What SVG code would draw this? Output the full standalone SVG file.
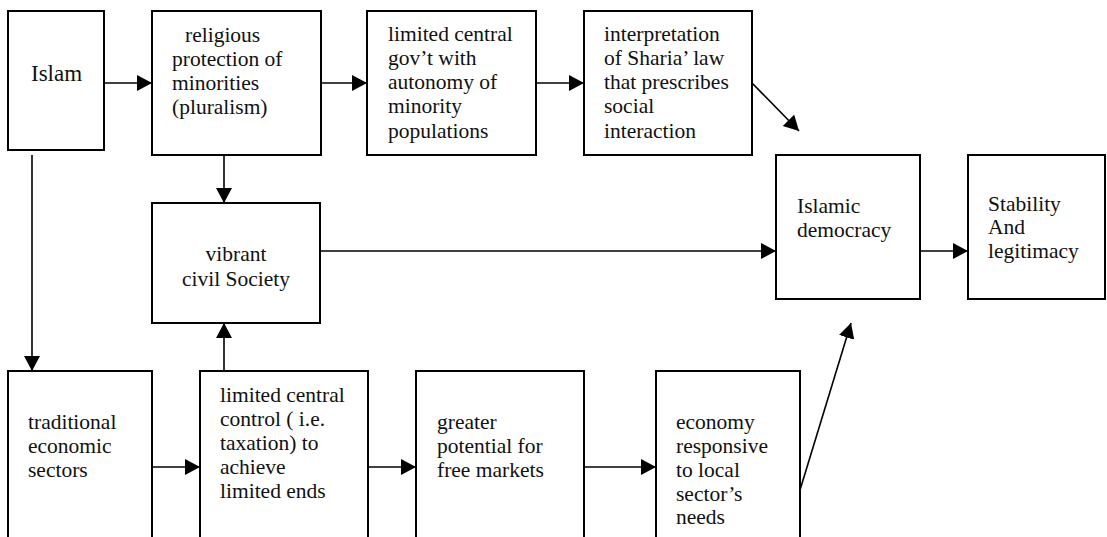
<svg xmlns="http://www.w3.org/2000/svg" width="1107" height="537" viewBox="0 0 1107 537" font-family="'Liberation Serif', 'Times New Roman', serif">
  <style>
    .box { fill: #ffffff; stroke: #000000; stroke-width: 2; }
    .link { fill: none; stroke: #000000; stroke-width: 1.6; marker-end: url(#arrow); }
    text { font-family: 'Liberation Serif', 'Times New Roman', serif; font-size: 21.5px; fill: #111111; }
    .big { font-size: 23px; }
    .mid { text-anchor: middle; }
  </style>
  <defs>
    <marker id="arrow" markerUnits="userSpaceOnUse" markerWidth="16" markerHeight="17" refX="15" refY="8" orient="auto">
      <path d="M0,0 L15,8 L0,16 Z" fill="#000000"/>
    </marker>
  </defs>
  <rect width="1107" height="537" fill="#ffffff"/>

  <!-- connectors -->
  <g id="connectors">
    <line class="link" x1="104" y1="83" x2="152" y2="83"/>
    <line class="link" x1="321" y1="83" x2="367" y2="83"/>
    <line class="link" x1="536" y1="83" x2="584" y2="83"/>
    <line class="link" x1="752" y1="83" x2="799" y2="131"/>
    <line class="link" x1="224" y1="155" x2="224" y2="203"/>
    <line class="link" x1="320" y1="251" x2="776" y2="251"/>
    <line class="link" x1="920" y1="251" x2="968" y2="251"/>
    <line class="link" x1="32" y1="155" x2="32" y2="371"/>
    <line class="link" x1="224" y1="371" x2="224" y2="323"/>
    <line class="link" x1="152" y1="467" x2="200" y2="467"/>
    <line class="link" x1="368" y1="467" x2="416" y2="467"/>
    <line class="link" x1="584" y1="467" x2="656" y2="467"/>
    <line class="link" x1="800" y1="490" x2="851" y2="323"/>
  </g>

  <g id="islam">
    <rect class="box" x="8" y="11" width="96" height="139"/>
    <text class="big" x="31" y="81">Islam</text>
  </g>

  <g id="religious-protection">
    <rect class="box" x="152" y="11" width="169" height="144"/>
    <text x="185" y="41.5">religious</text>
    <text x="172" y="65.5">protection of</text>
    <text x="172" y="89.5">minorities</text>
    <text x="172" y="113.5">(pluralism)</text>
  </g>

  <g id="limited-government">
    <rect class="box" x="367" y="11" width="169" height="144"/>
    <text x="388" y="40.5">limited central</text>
    <text x="388" y="64.8">gov’t with</text>
    <text x="388" y="89.1">autonomy of</text>
    <text x="388" y="113.4">minority</text>
    <text x="388" y="137.7">populations</text>
  </g>

  <g id="sharia">
    <rect class="box" x="584" y="11" width="168" height="144"/>
    <text x="604" y="40.5">interpretation</text>
    <text x="604" y="64.8">of Sharia’ law</text>
    <text x="604" y="89.1">that prescribes</text>
    <text x="604" y="113.4">social</text>
    <text x="604" y="137.7">interaction</text>
  </g>

  <g id="civil-society">
    <rect class="box" x="152" y="203" width="168" height="120"/>
    <text class="mid" x="236" y="261">vibrant</text>
    <text class="mid" x="236" y="286">civil Society</text>
  </g>

  <g id="islamic-democracy">
    <rect class="box" x="776" y="155" width="144" height="144"/>
    <text x="797" y="212.7">Islamic</text>
    <text x="797" y="236.7">democracy</text>
  </g>

  <g id="stability">
    <rect class="box" x="968" y="155" width="137" height="144"/>
    <text x="988" y="210.5">Stability</text>
    <text x="988" y="234">And</text>
    <text x="988" y="257.5">legitimacy</text>
  </g>

  <g id="traditional-sectors">
    <rect class="box" x="8" y="371" width="144" height="175"/>
    <text x="28" y="429">traditional</text>
    <text x="28" y="453">economic</text>
    <text x="28" y="477">sectors</text>
  </g>

  <g id="limited-control">
    <rect class="box" x="200" y="371" width="168" height="175"/>
    <text x="220" y="401.7">limited central</text>
    <text x="220" y="425.9">control ( i.e.</text>
    <text x="220" y="450">taxation) to</text>
    <text x="220" y="474">achieve</text>
    <text x="220" y="498.2">limited ends</text>
  </g>

  <g id="free-markets">
    <rect class="box" x="416" y="371" width="168" height="175"/>
    <text x="437" y="428.5">greater</text>
    <text x="437" y="452.7">potential for</text>
    <text x="437" y="476.8">free markets</text>
  </g>

  <g id="local-economy">
    <rect class="box" x="656" y="371" width="144" height="175"/>
    <text x="676" y="428.5">economy</text>
    <text x="676" y="452.7">responsive</text>
    <text x="676" y="476.8">to local</text>
    <text x="676" y="500.5">sector’s</text>
    <text x="676" y="524.2">needs</text>
  </g>
</svg>
